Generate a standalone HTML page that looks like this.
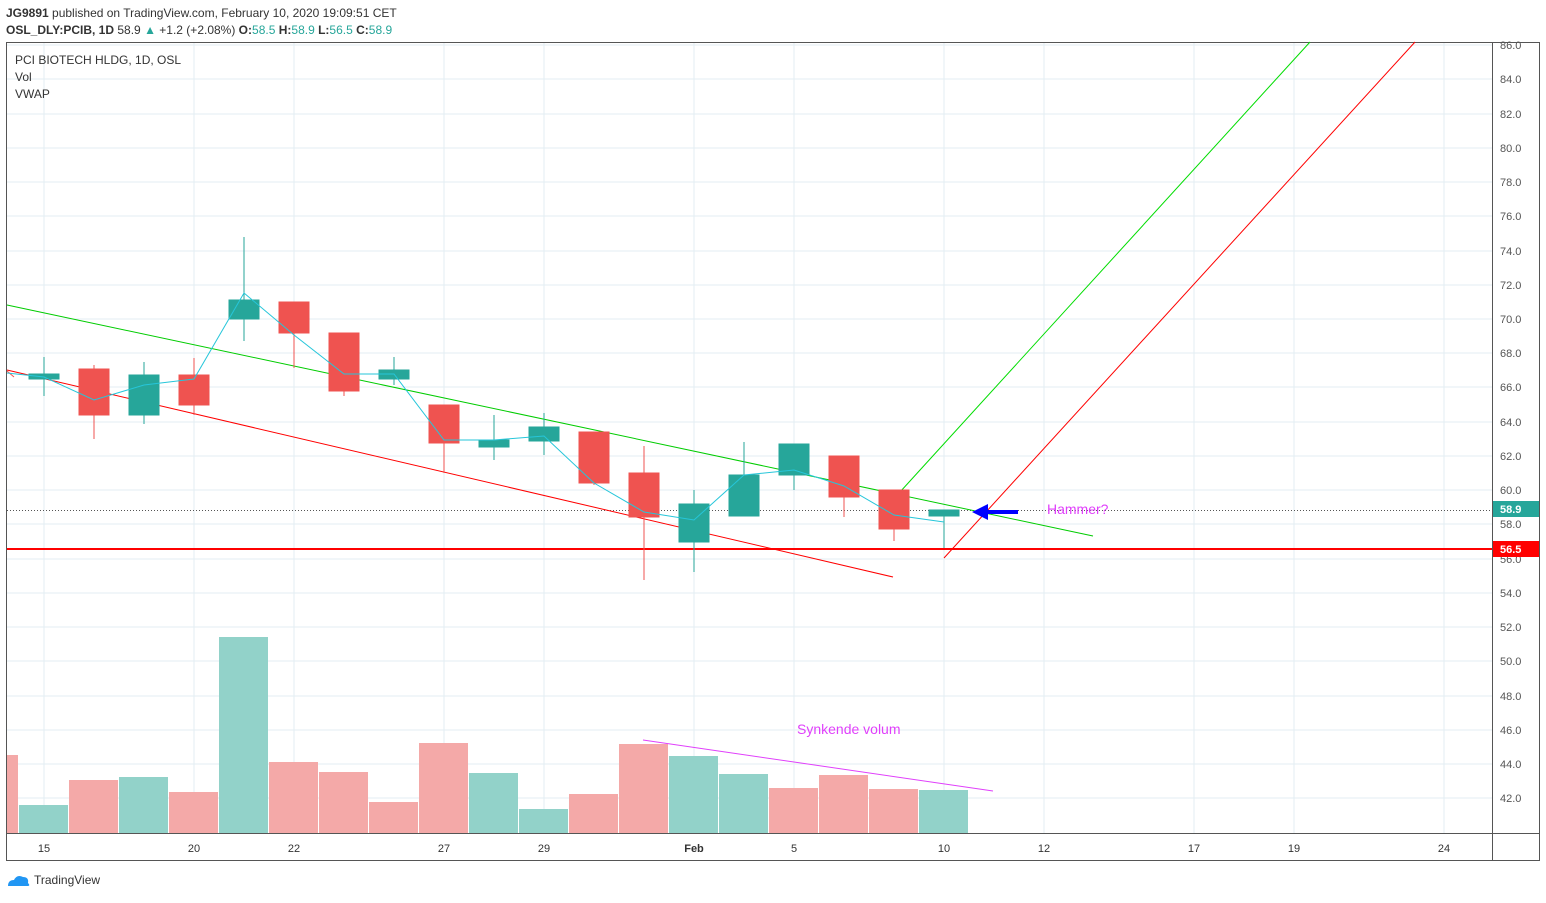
<!DOCTYPE html>
<html><head><meta charset="utf-8"><style>
body{margin:0;background:#fff;width:1546px;height:898px;overflow:hidden;font-family:"Liberation Sans",sans-serif}
</style></head><body>
<svg width="1546" height="898" xmlns="http://www.w3.org/2000/svg" font-family="Liberation Sans, sans-serif">
<rect width="1546" height="898" fill="#fff"/>
<text x="6" y="17" font-size="12" fill="#333"><tspan font-weight="bold">JG9891</tspan> published on TradingView.com, February 10, 2020 19:09:51 CET</text>
<text x="6" y="34" font-size="12" fill="#333"><tspan font-weight="bold">OSL_DLY:PCIB, 1D</tspan> 58.9 <tspan fill="#26a69a">▲</tspan> +1.2 (+2.08%) <tspan font-weight="bold">O:</tspan><tspan fill="#26a69a">58.5</tspan> <tspan font-weight="bold">H:</tspan><tspan fill="#26a69a">58.9</tspan> <tspan font-weight="bold">L:</tspan><tspan fill="#26a69a">56.5</tspan> <tspan font-weight="bold">C:</tspan><tspan fill="#26a69a">58.9</tspan></text>
<rect x="6.5" y="42.5" width="1533" height="818" fill="none" stroke="#555"/>
<line x1="1492.5" y1="42" x2="1492.5" y2="860" stroke="#555"/>
<line x1="6" y1="833.5" x2="1540" y2="833.5" stroke="#555"/>
<g stroke="#e3edf3">
<line x1="44" y1="43" x2="44" y2="833"/><line x1="194" y1="43" x2="194" y2="833"/><line x1="294" y1="43" x2="294" y2="833"/><line x1="444" y1="43" x2="444" y2="833"/><line x1="544" y1="43" x2="544" y2="833"/><line x1="694" y1="43" x2="694" y2="833"/><line x1="794" y1="43" x2="794" y2="833"/><line x1="944" y1="43" x2="944" y2="833"/><line x1="1044" y1="43" x2="1044" y2="833"/><line x1="1194" y1="43" x2="1194" y2="833"/><line x1="1294" y1="43" x2="1294" y2="833"/><line x1="1444" y1="43" x2="1444" y2="833"/>
<line x1="7" y1="45" x2="1492" y2="45"/><line x1="7" y1="79" x2="1492" y2="79"/><line x1="7" y1="114" x2="1492" y2="114"/><line x1="7" y1="148" x2="1492" y2="148"/><line x1="7" y1="182" x2="1492" y2="182"/><line x1="7" y1="216" x2="1492" y2="216"/><line x1="7" y1="251" x2="1492" y2="251"/><line x1="7" y1="285" x2="1492" y2="285"/><line x1="7" y1="319" x2="1492" y2="319"/><line x1="7" y1="353" x2="1492" y2="353"/><line x1="7" y1="387" x2="1492" y2="387"/><line x1="7" y1="422" x2="1492" y2="422"/><line x1="7" y1="456" x2="1492" y2="456"/><line x1="7" y1="490" x2="1492" y2="490"/><line x1="7" y1="524" x2="1492" y2="524"/><line x1="7" y1="559" x2="1492" y2="559"/><line x1="7" y1="593" x2="1492" y2="593"/><line x1="7" y1="627" x2="1492" y2="627"/><line x1="7" y1="661" x2="1492" y2="661"/><line x1="7" y1="696" x2="1492" y2="696"/><line x1="7" y1="730" x2="1492" y2="730"/><line x1="7" y1="764" x2="1492" y2="764"/><line x1="7" y1="798" x2="1492" y2="798"/>
</g>
<g font-size="11" fill="#555">
<text x="1500" y="49">86.0</text><text x="1500" y="83">84.0</text><text x="1500" y="118">82.0</text><text x="1500" y="152">80.0</text><text x="1500" y="186">78.0</text><text x="1500" y="220">76.0</text><text x="1500" y="255">74.0</text><text x="1500" y="289">72.0</text><text x="1500" y="323">70.0</text><text x="1500" y="357">68.0</text><text x="1500" y="391">66.0</text><text x="1500" y="426">64.0</text><text x="1500" y="460">62.0</text><text x="1500" y="494">60.0</text><text x="1500" y="528">58.0</text><text x="1500" y="563">56.0</text><text x="1500" y="597">54.0</text><text x="1500" y="631">52.0</text><text x="1500" y="665">50.0</text><text x="1500" y="700">48.0</text><text x="1500" y="734">46.0</text><text x="1500" y="768">44.0</text><text x="1500" y="802">42.0</text>
</g>
<g font-size="11" fill="#333" text-anchor="middle">
<text x="44" y="852">15</text><text x="194" y="852">20</text><text x="294" y="852">22</text><text x="444" y="852">27</text><text x="544" y="852">29</text><text x="694" y="852" font-weight="bold">Feb</text><text x="794" y="852">5</text><text x="944" y="852">10</text><text x="1044" y="852">12</text><text x="1194" y="852">17</text><text x="1294" y="852">19</text><text x="1444" y="852">24</text>
</g>
<g>
<rect x="7" y="755" width="11" height="78" fill="#f4a9a8"/>
<rect x="19" y="805" width="49" height="28" fill="#92d2c9"/>
<rect x="69" y="780" width="49" height="53" fill="#f4a9a8"/>
<rect x="119" y="777" width="49" height="56" fill="#92d2c9"/>
<rect x="169" y="792" width="49" height="41" fill="#f4a9a8"/>
<rect x="219" y="637" width="49" height="196" fill="#92d2c9"/>
<rect x="269" y="762" width="49" height="71" fill="#f4a9a8"/>
<rect x="319" y="772" width="49" height="61" fill="#f4a9a8"/>
<rect x="369" y="802" width="49" height="31" fill="#f4a9a8"/>
<rect x="419" y="743" width="49" height="90" fill="#f4a9a8"/>
<rect x="469" y="773" width="49" height="60" fill="#92d2c9"/>
<rect x="519" y="809" width="49" height="24" fill="#92d2c9"/>
<rect x="569" y="794" width="49" height="39" fill="#f4a9a8"/>
<rect x="619" y="744" width="49" height="89" fill="#f4a9a8"/>
<rect x="669" y="756" width="49" height="77" fill="#92d2c9"/>
<rect x="719" y="774" width="49" height="59" fill="#92d2c9"/>
<rect x="769" y="788" width="49" height="45" fill="#f4a9a8"/>
<rect x="819" y="775" width="49" height="58" fill="#f4a9a8"/>
<rect x="869" y="789" width="49" height="44" fill="#f4a9a8"/>
<rect x="919" y="790" width="49" height="43" fill="#92d2c9"/>
</g>
<line x1="643" y1="740" x2="993" y2="791" stroke="#e040fb" stroke-width="1"/>
<text x="797" y="734" font-size="14" fill="#e040fb">Synkende volum</text>
<line x1="7" y1="510.5" x2="1492" y2="510.5" stroke="#555" stroke-dasharray="1,2"/>
<line x1="7" y1="549" x2="1492" y2="549" stroke="#f00" stroke-width="2"/>
<line x1="7" y1="305" x2="1093" y2="536" stroke="#0c0" stroke-width="1"/>
<line x1="7" y1="370" x2="893" y2="577" stroke="#f00" stroke-width="1"/>
<line x1="900" y1="492" x2="1310" y2="42" stroke="#0d0" stroke-width="1"/>
<line x1="944" y1="558" x2="1415" y2="42" stroke="#f00" stroke-width="1"/>
<g stroke-width="1">
<g stroke="#26a69a" fill="#26a69a">
<line x1="44" y1="357" x2="44" y2="396"/><rect x="29" y="374" width="30" height="5"/>
<line x1="144" y1="362" x2="144" y2="424"/><rect x="129" y="375" width="30" height="40"/>
<line x1="244" y1="237" x2="244" y2="341"/><rect x="229" y="300" width="30" height="19"/>
<line x1="394" y1="357" x2="394" y2="385"/><rect x="379" y="370" width="30" height="9"/>
<line x1="494" y1="415" x2="494" y2="460"/><rect x="479" y="440" width="30" height="7"/>
<line x1="544" y1="413" x2="544" y2="455"/><rect x="529" y="427" width="30" height="14"/>
<line x1="694" y1="490" x2="694" y2="572"/><rect x="679" y="504" width="30" height="38"/>
<line x1="744" y1="442" x2="744" y2="516"/><rect x="729" y="475" width="30" height="41"/>
<line x1="794" y1="444" x2="794" y2="490"/><rect x="779" y="444" width="30" height="31"/>
<line x1="944" y1="510" x2="944" y2="548"/><rect x="929" y="510" width="30" height="6"/>
</g>
<g stroke="#ef5350" fill="#ef5350">
<line x1="94" y1="365" x2="94" y2="439"/><rect x="79" y="369" width="30" height="46"/>
<line x1="194" y1="358" x2="194" y2="415"/><rect x="179" y="375" width="30" height="30"/>
<line x1="294" y1="302" x2="294" y2="368"/><rect x="279" y="302" width="30" height="31"/>
<line x1="344" y1="333" x2="344" y2="396"/><rect x="329" y="333" width="30" height="58"/>
<line x1="444" y1="405" x2="444" y2="473"/><rect x="429" y="405" width="30" height="38"/>
<line x1="594" y1="432" x2="594" y2="485"/><rect x="579" y="432" width="30" height="51"/>
<line x1="644" y1="446" x2="644" y2="580"/><rect x="629" y="473" width="30" height="44"/>
<line x1="844" y1="456" x2="844" y2="517"/><rect x="829" y="456" width="30" height="41"/>
<line x1="894" y1="490" x2="894" y2="541"/><rect x="879" y="490" width="30" height="39"/>
</g>
<line x1="7" y1="371" x2="14" y2="377" stroke="#ef5350"/>
</g>
<polyline fill="none" stroke="#26c6da" stroke-width="1" points="7,373 44,377 94,400 144,385 194,379 244,293 294,335 344,374 394,374 444,440 494,440 544,436 594,483 644,512 694,520 744,475 794,470 844,486 894,515 944,522"/>
<line x1="1018" y1="512" x2="985" y2="512" stroke="#00f" stroke-width="4"/>
<polygon points="972,512 988,504 988,520" fill="#00f"/>
<text x="1047" y="514" font-size="14" fill="#e040fb">Hammer?</text>
<rect x="1493" y="501" width="46" height="16" fill="#26a69a"/>
<text x="1500" y="513" font-size="11" font-weight="bold" fill="#fff">58.9</text>
<rect x="1493" y="541" width="46" height="16" fill="#f00"/>
<text x="1500" y="553" font-size="11" font-weight="bold" fill="#fff">56.5</text>
<text x="15" y="64" font-size="12" fill="#333">PCI BIOTECH HLDG, 1D, OSL</text>
<text x="15" y="81" font-size="12" fill="#333">Vol</text>
<text x="15" y="98" font-size="12" fill="#333">VWAP</text>
<path d="M8 886 q0 -6 6 -6 q3 -6 9 -3 q6 0 5 6 q3 3 -1 3 z" fill="#2196f3"/>
<text x="34" y="884" font-size="12" fill="#333">TradingView</text>
</svg>
</body></html>
